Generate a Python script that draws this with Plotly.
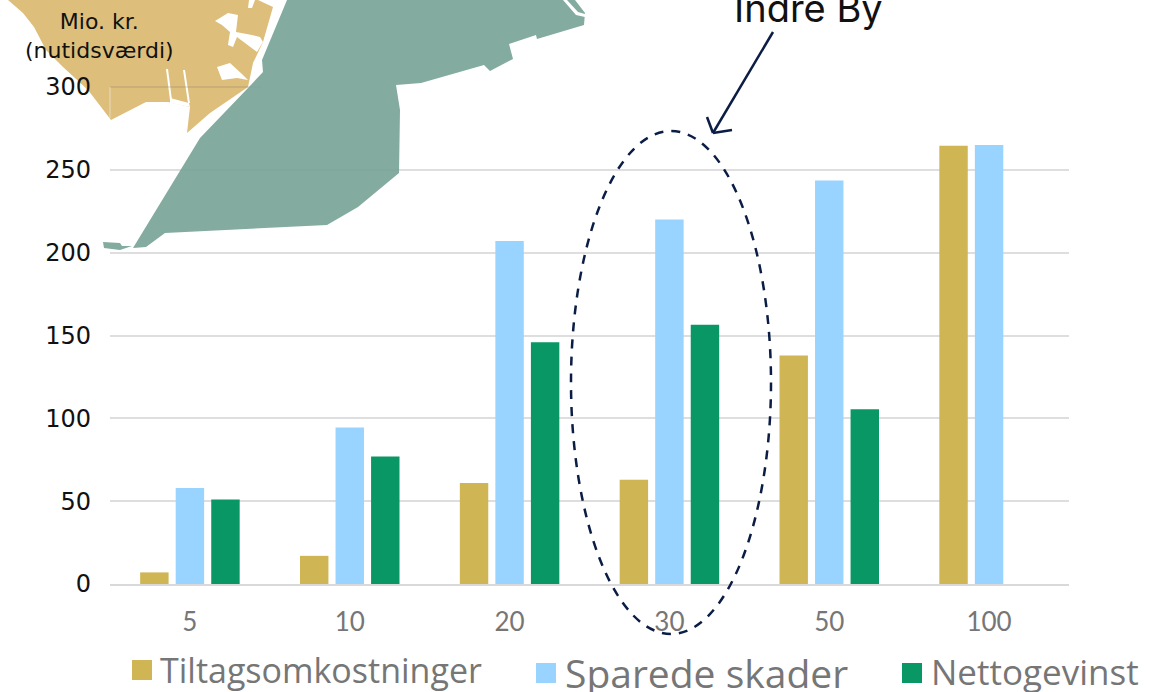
import plotly.graph_objects as go

W, H = 1171, 692
L, R, T, B = 110, 1069, 87, 584

categories = ["5", "10", "20", "30", "50", "100"]
tiltag = [7, 17, 61, 63, 138, 264.5]
sparede = [58, 94.5, 207, 220, 243.5, 265]
netto = [51, 77, 146, 156.5, 105.5, None]
y_ticks = [0, 50, 100, 150, 200, 250, 300]

GOLD, BLUE, GREEN = "#CFB553", "#99D3FF", "#0A9766"
NAVY = "#0B1D45"
GREY = "#767676"
FONT = "Lato"

def px(x):
    return (x - L) / (R - L)

def py(y):
    return (B - y) / (B - T)

def path(points):
    return "M " + " L ".join(f"{px(x):.5f},{py(y):.5f}" for x, y in points) + " Z"

# Decorative map backdrop, outline traced in page pixels
tan_map = [(8, 0), (23, 13), (34, 27), (46, 50), (63, 67), (88, 90), (111, 120), (146, 102), (168, 102),
           (190, 107), (187, 133), (210, 113), (248, 87), (253, 63), (263, 42), (273, 7), (258, 0)]
green_map = [(287, 0), (262, 60), (263, 72), (248, 88), (200, 138), (133, 248), (146, 247), (165, 233), (327, 225),
             (358, 207), (399, 173), (400, 110), (396, 85), (421, 83), (484, 65), (490, 71), (513, 59),
             (509, 44), (536, 35), (537, 39), (584, 25), (585, 13), (575, 0)]
island = [(103, 242), (120, 243), (122, 246), (132, 246), (120, 250), (104, 248)]
cutouts = [
    [(215, 21), (228, 13), (238, 15), (236, 32), (252, 35), (260, 37), (263, 42), (257, 52), (237, 37),
     (233, 47), (228, 45), (230, 32), (222, 25)],
    [(217, 67), (230, 63), (243, 75), (248, 80), (237, 78), (222, 80)],
    [(166, 69), (168, 69), (172, 100), (170, 100)],
    [(183, 70), (185, 70), (190, 103), (188, 103)],
    [(170, 98), (189, 103), (190, 107), (170, 103)],
    [(249, 0), (255, 0), (252, 8), (248, 8)],
]
green_cutouts = [
    [(563, 0), (567, 0), (578, 12), (585, 14), (585, 17), (576, 15)],
]

def dline(x0, y0, x1, y1, **kw):
    return dict(type="line", xref="paper", yref="paper", x0=px(x0), y0=py(y0), x1=px(x1), y1=py(y1), **kw)

def poly(points, fill, layer="above"):
    return dict(type="path", xref="paper", yref="paper", path=path(points), layer=layer,
                fillcolor=fill, line_width=0)

def square(x, y, color):
    return dict(type="rect", xref="paper", yref="paper", x0=px(x), x1=px(x + 20), y0=py(y + 20), y1=py(y),
                fillcolor=color, line_width=0, layer="above")

shapes = [poly(tan_map, "rgb(221,190,123)", "between")]
shapes += [poly(c, "white", "between") for c in cutouts]
shapes += [
    dline(110, 87, 262, 87, line=dict(color="rgba(110,110,100,0.35)", width=1), layer="above"),
    dline(110, 87, 110, 118, line=dict(color="rgba(240,240,230,0.6)", width=1), layer="above"),
    poly(green_map, "rgba(118,162,149,0.9)"),
    poly(island, "rgba(118,162,149,0.9)"),
]
shapes += [poly(c, "white") for c in green_cutouts]
shapes += [
    dict(type="circle", xref="paper", yref="paper", x0=px(571), x1=px(771), y0=py(634), y1=py(131),
         line=dict(color=NAVY, width=2.5, dash="9px,8px"), layer="above"),
    dline(773, 32, 713, 133, line=dict(color=NAVY, width=2.5)),
    dline(707, 117, 713, 133, line=dict(color=NAVY, width=2.5)),
    dline(732, 130, 713, 133, line=dict(color=NAVY, width=2.5)),
    square(132, 660, GOLD),
    square(536, 663, BLUE),
    square(902, 663, GREEN),
]

fig = go.Figure()
series = [("Tiltagsomkostninger", tiltag, GOLD, "legend"),
          ("Sparede skader", sparede, BLUE, "legend2"),
          ("Nettogevinst", netto, GREEN, "legend3")]
for name, vals, color, leg_id in series:
    fig.add_bar(x=categories, y=vals, name=name, marker_color=color, marker_line_width=0, legend=leg_id)

def leg(x, y, size):
    return dict(xref="container", yref="container", x=x / W, y=1 - y / H, xanchor="left", yanchor="middle",
                bgcolor="rgba(0,0,0,0)", font=dict(family="Open Sans", size=size, color=GREY),
                itemwidth=30, tracegroupgap=0)

fig.update_layout(
    width=W, height=H, autosize=False,
    margin=dict(l=L, r=W - R, t=T, b=H - B, autoexpand=False),
    paper_bgcolor="white", plot_bgcolor="rgba(0,0,0,0)",
    barmode="group", bargap=0.333, bargroupgap=0.2,
    showlegend=True,
    legend=leg(120, 670, 34), legend2=leg(525, 673, 39), legend3=leg(891, 672, 35),
    font=dict(family=FONT, color=GREY),
    xaxis=dict(type="category", categoryorder="array", categoryarray=categories,
               showline=True, linecolor="#D9D9D9", linewidth=2, ticks="", ticklabelstandoff=14,
               tickfont=dict(family=FONT, size=26, color=GREY)),
    yaxis=dict(range=[0, 300], tickvals=y_ticks, gridcolor="#DEDEDE", gridwidth=2, zeroline=False,
               ticks="", ticklabelstandoff=18, tickfont=dict(family="DejaVu Sans", size=24, color="#111111")),
    shapes=shapes,
    annotations=[
        dict(text="Mio. kr.<br>(nutidsværdi)", xref="paper", yref="paper", x=px(99), y=py(36),
             xanchor="center", yanchor="middle",
             showarrow=False, font=dict(family="DejaVu Sans", size=22, color="#111111"), align="center"),
        dict(text="Indre By", xref="paper", yref="paper", x=px(808), y=py(8),
             xanchor="center", yanchor="middle",
             showarrow=False, font=dict(family="Inter", size=38, color="#111111")),
    ],
)
fig.write_html("out.html", post_script="document.body.style.margin='0';", config=dict(displayModeBar=False))
